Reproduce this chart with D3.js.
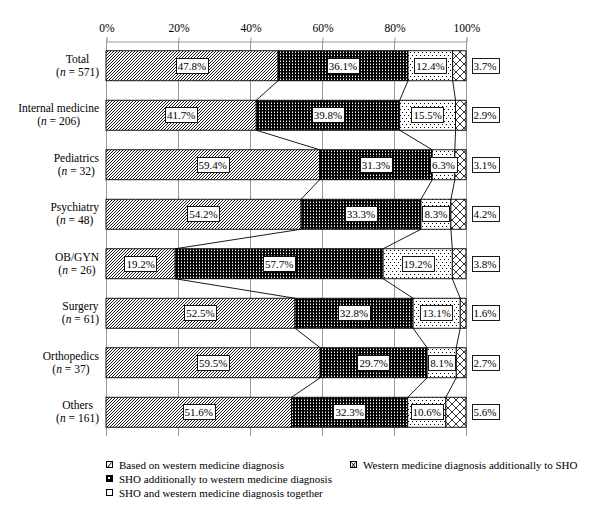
<!DOCTYPE html>
<html>
<head>
<meta charset="utf-8">
<script src="https://cdn.jsdelivr.net/npm/d3@7"></script>
<style>
  body { margin: 0; background: #fff; }
  svg text { font-family: "Liberation Serif", "DejaVu Serif", serif; fill: #000; }
</style>
</head>
<body>
<div id="chart-area"></div>
<script>
// Data
var categories = ["Total", "Internal medicine", "Pediatrics", "Psychiatry", "OB/GYN", "Surgery", "Orthopedics", "Others"]
var counts = [571, 206, 32, 48, 26, 61, 37, 161]
var westernOnly = [47.8, 41.7, 59.4, 54.2, 19.2, 52.5, 59.5, 51.6]
var shoAdded = [36.1, 39.8, 31.3, 33.3, 57.7, 32.8, 29.7, 32.3]
var together = [12.4, 15.5, 6.3, 8.3, 19.2, 13.1, 8.1, 10.6]
var westernAdded = [3.7, 2.9, 3.1, 4.2, 3.8, 1.6, 2.7, 5.6]
var tickValues = [0, 20, 40, 60, 80, 100]
var seriesKeys = ["westernOnly", "shoAdded", "together", "westernAdded"]
var legendLabels = ["Based on western medicine diagnosis",
                    "SHO additionally to western medicine diagnosis",
                    "SHO and western medicine diagnosis together",
                    "Western medicine diagnosis additionally to SHO"]

var rows = categories.map(function(c, i){
    return {category: c, n: counts[i], westernOnly: westernOnly[i], shoAdded: shoAdded[i],
            together: together[i], westernAdded: westernAdded[i]}
})

var width = 600, height = 519
var fontSize = 11

var svg = d3.select("#chart-area")
    .append("svg")
        .attr("width", width)
        .attr("height", height)

// Fill patterns
var defs = svg.append("defs")

var p1 = defs.append("pattern").attr("id", "hatch")
    .attr("patternUnits", "userSpaceOnUse").attr("width", 3).attr("height", 3)
p1.append("rect").attr("width", 3).attr("height", 3).attr("fill", "#fff")
p1.append("path").attr("d", "M-1,1 L1,-1 M0,3 L3,0 M2,4 L4,2")
    .attr("stroke", "#000").attr("stroke-width", 0.9)

var p2 = defs.append("pattern").attr("id", "dark")
    .attr("patternUnits", "userSpaceOnUse").attr("width", 3).attr("height", 3)
p2.append("rect").attr("width", 3).attr("height", 3).attr("fill", "#000")
p2.append("rect").attr("x", 1).attr("y", 1).attr("width", 1).attr("height", 1).attr("fill", "#fff")
p2.append("rect").attr("x", 1).attr("y", 0).attr("width", 1).attr("height", 1).attr("fill", "#777")

var p3 = defs.append("pattern").attr("id", "dots")
    .attr("patternUnits", "userSpaceOnUse").attr("width", 4).attr("height", 6)
p3.append("rect").attr("width", 4).attr("height", 6).attr("fill", "#fff")
p3.append("rect").attr("x", 0).attr("y", 1).attr("width", 1).attr("height", 1).attr("fill", "#000")
p3.append("rect").attr("x", 2).attr("y", 4).attr("width", 1).attr("height", 1).attr("fill", "#000")

var p4 = defs.append("pattern").attr("id", "cross")
    .attr("patternUnits", "userSpaceOnUse").attr("width", 8).attr("height", 8)
p4.append("rect").attr("width", 8).attr("height", 8).attr("fill", "#fff")
p4.append("path").attr("d", "M0,0 L8,8 M8,0 L0,8")
    .attr("stroke", "#000").attr("stroke-width", 0.8)

var fills = ["url(#hatch)", "url(#dark)", "url(#dots)", "url(#cross)"]

// Scales
var x = d3.scaleLinear().domain([0, 1]).range([106, 466])
var y = d3.scaleBand().domain(categories).range([41, 437])
    .paddingInner(0.394).paddingOuter(0.197)

var stacked = d3.stack().keys(seriesKeys).offset(d3.stackOffsetExpand)(rows)

// Grid lines and top axis
var grid = svg.append("g").attr("class", "grid")
grid.selectAll("line")
    .data(tickValues)
    .enter().append("line")
        .attr("x1", d => x(d / 100) + 0.5)
        .attr("x2", d => x(d / 100) + 0.5)
        .attr("y1", 41)
        .attr("y2", 436)
        .attr("stroke", "#999")
        .attr("stroke-width", 1)

var xAxisCall = d3.axisTop(x)
    .tickValues(tickValues.map(d => d / 100))
    .tickFormat(d => Math.round(d * 100) + "%")
    .tickSizeOuter(0)
    .tickSize(4)
var xAxis = svg.append("g")
    .attr("class", "x-axis")
    .attr("transform", "translate(0.5, 41.5)")
    .call(xAxisCall)
xAxis.select(".domain").attr("stroke", "#999")
xAxis.selectAll(".tick line").attr("stroke", "#999")
xAxis.selectAll(".tick text")
    .attr("font-size", fontSize + 0.5)
    .attr("font-family", "Liberation Serif")
    .attr("y", -10)

// Connector lines between bars
var connectors = svg.append("g").attr("class", "connectors")
for (var k = 0; k < 3; k++){
    for (var i = 0; i < categories.length - 1; i++){
        connectors.append("line")
            .attr("x1", x(stacked[k][i][1]))
            .attr("y1", y(categories[i]) + y.bandwidth())
            .attr("x2", x(stacked[k][i + 1][1]))
            .attr("y2", y(categories[i + 1]))
            .attr("stroke", "#000")
            .attr("stroke-width", 0.9)
    }
}

// Bars
var layers = svg.append("g").attr("class", "bars")
    .selectAll("g")
    .data(stacked)
    .enter().append("g")
        .attr("fill", (d, i) => fills[i])

layers.selectAll("rect")
    .data(d => d)
    .enter().append("rect")
        .attr("x", d => x(d[0]))
        .attr("y", d => y(d.data.category))
        .attr("width", d => x(d[1]) - x(d[0]))
        .attr("height", y.bandwidth())
        .attr("stroke", "#000")
        .attr("stroke-width", 0.9)

// Value labels with white boxes
var labels = svg.append("g").attr("class", "labels")
stacked.forEach(function(layer, k){
    layer.forEach(function(d){
        var cx = k === 3 ? 485 : x((d[0] + d[1]) / 2)
        var cy = y(d.data.category) + y.bandwidth() / 2
        var g = labels.append("g")
        var t = g.append("text")
            .attr("x", cx)
            .attr("y", cy + 4)
            .attr("text-anchor", "middle")
            .attr("font-size", fontSize)
            .text(d.data[seriesKeys[k]].toFixed(1) + "%")
        var w = t.node().getComputedTextLength()
        g.insert("rect", "text")
            .attr("x", Math.round(cx - w / 2 - 2) + 0.5)
            .attr("y", Math.round(cy - 8) + 0.5)
            .attr("width", Math.round(w + 4))
            .attr("height", 15)
            .attr("fill", "#fff")
            .attr("stroke", "#000")
            .attr("stroke-width", 0.9)
    })
})

// Category labels (two centred lines, block right aligned)
var catLabels = svg.append("g").attr("class", "categories")
rows.forEach(function(d){
    var cy = y(d.category) + y.bandwidth() / 2
    var g = catLabels.append("g")
    var t1 = g.append("text")
        .attr("y", cy - 3)
        .attr("font-size", fontSize + 0.5)
        .attr("text-anchor", "middle")
        .text(d.category)
    var t2 = g.append("text")
        .attr("y", cy + 10)
        .attr("font-size", fontSize + 0.5)
        .attr("text-anchor", "middle")
    t2.append("tspan").text("(")
    t2.append("tspan").attr("font-style", "italic").text("n")
    t2.append("tspan").text("\u00a0=\u00a0" + d.n + ")")
    var w = Math.max(t1.node().getComputedTextLength(), t2.node().getComputedTextLength())
    var mid = 99 - w / 2
    t1.attr("x", mid)
    t2.attr("x", mid)
})

// Legend
var legendPos = [[106, 465], [106, 479], [106, 493], [350, 465]]
var legend = svg.append("g").attr("class", "legend")
legendLabels.forEach(function(label, i){
    var lx = legendPos[i][0], ly = legendPos[i][1]
    var g = legend.append("g").attr("transform", "translate(" + lx + "," + ly + ")")
    g.append("rect")
        .attr("x", 0.5).attr("y", -3.5)
        .attr("width", 6).attr("height", 6)
        .attr("fill", i === 1 ? "#000" : "#fff")
        .attr("stroke", "#000")
        .attr("stroke-width", 1)
    if (i === 0) g.append("path").attr("d", "M1.5,2.5 L5.5,-2.5").attr("stroke", "#000")
    if (i === 1) g.append("rect").attr("x", 2).attr("y", -2).attr("width", 2).attr("height", 2).attr("fill", "#fff")
    if (i === 3) g.append("path").attr("d", "M1.5,-2.5 L5.5,2.5 M1.5,2.5 L5.5,-2.5").attr("stroke", "#000")
    g.append("text")
        .attr("x", 13)
        .attr("y", 4)
        .attr("font-size", fontSize)
        .text(label)
})
</script>
</body>
</html>
